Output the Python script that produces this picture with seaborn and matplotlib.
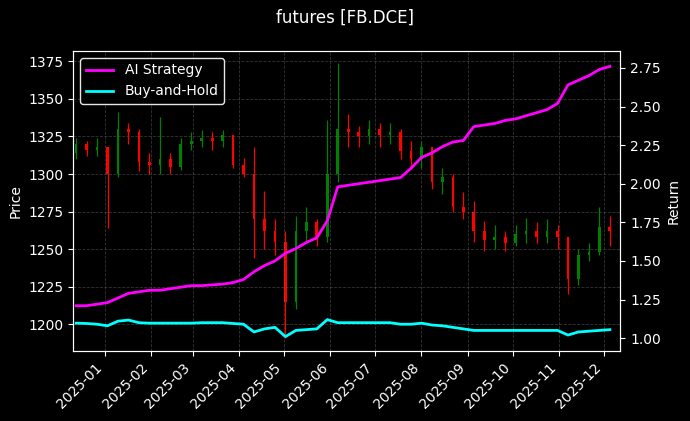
import numpy as np
import pandas as pd
import matplotlib
matplotlib.use("Agg")
import matplotlib.pyplot as plt
import matplotlib.dates as mdates
import seaborn as sns

# weekly candles (Friday dates)
dates = pd.date_range("2024-12-13", periods=52, freq="W-FRI")
close = [1320, 1316, 1318, 1300, 1330, 1328, 1308, 1306, 1310, 1305,
         1320, 1322, 1324, 1322, 1326, 1306, 1300, 1270, 1262, 1255,
         1215, 1262, 1268, 1258, 1300, 1330, 1328, 1325, 1330, 1326,
         1328, 1315, 1310, 1318, 1295, 1298, 1278, 1275, 1262, 1256,
         1258, 1254, 1260, 1262, 1258, 1262, 1258, 1230, 1246, 1248,
         1265, 1262]
open_ = [1314] + close[:-1]
high = [1324, 1322, 1324, 1318, 1341, 1334, 1330, 1314, 1338, 1314,
        1324, 1328, 1329, 1328, 1329, 1326, 1311, 1318, 1289, 1270,
        1262, 1272, 1278, 1270, 1336, 1374, 1340, 1332, 1336, 1334,
        1334, 1330, 1322, 1322, 1318, 1304, 1300, 1288, 1282, 1269,
        1266, 1262, 1266, 1271, 1268, 1270, 1266, 1258, 1250, 1254,
        1278, 1272]
low = [1310, 1312, 1312, 1264, 1298, 1320, 1302, 1300, 1300, 1300,
       1303, 1316, 1318, 1316, 1318, 1304, 1298, 1244, 1250, 1246,
       1191, 1210, 1255, 1252, 1255, 1295, 1318, 1318, 1320, 1318,
       1320, 1310, 1304, 1304, 1290, 1287, 1275, 1270, 1255, 1249,
       1250, 1249, 1252, 1254, 1254, 1254, 1250, 1220, 1226, 1242,
       1246, 1252]

strategy = [1.21, 1.21, 1.22, 1.23, 1.26, 1.29, 1.30, 1.31, 1.31, 1.32,
            1.33, 1.34, 1.34, 1.345, 1.35, 1.36, 1.38, 1.43, 1.47, 1.50,
            1.55, 1.58, 1.62, 1.65, 1.76, 1.98, 1.99, 2.00, 2.01, 2.02,
            2.03, 2.04, 2.10, 2.17, 2.20, 2.24, 2.27, 2.28, 2.37, 2.38,
            2.39, 2.41, 2.42, 2.44, 2.46, 2.48, 2.52, 2.64, 2.67, 2.70,
            2.74, 2.76]
buyhold = [1.097, 1.095, 1.09, 1.08, 1.11, 1.117, 1.10, 1.097, 1.097, 1.097,
           1.097, 1.097, 1.10, 1.10, 1.10, 1.095, 1.09, 1.04, 1.06, 1.07,
           1.01, 1.05, 1.055, 1.06, 1.12, 1.10, 1.10, 1.10, 1.10, 1.10,
           1.10, 1.09, 1.09, 1.097, 1.085, 1.08, 1.07, 1.06, 1.05, 1.05,
           1.05, 1.05, 1.05, 1.05, 1.05, 1.05, 1.05, 1.02, 1.04, 1.045,
           1.05, 1.055]

df = pd.DataFrame({"date": dates, "open": open_, "high": high, "low": low,
                   "close": close, "AI Strategy": strategy, "Buy-and-Hold": buyhold})

plt.style.use("dark_background")
fig, ax = plt.subplots(figsize=(6.9, 4.21), dpi=100)
fig.subplots_adjust(left=0.106, right=0.899, top=0.879, bottom=0.166)

colors = np.where(df["close"] >= df["open"], "green", "red")
ax.vlines(df["date"], df["low"], df["high"], colors=colors, linewidth=0.9)
ax.bar(df["date"], (df["close"] - df["open"]).abs().clip(lower=1.5),
       bottom=np.minimum(df["open"], df["close"]), width=1.8, color=colors)
ax.set_ylim(1182, 1382)
ax.set_xlim(pd.Timestamp("2024-12-11"), pd.Timestamp("2025-12-12"))
ax.set_ylabel("Price")
ax.grid(True, linestyle="--", color="grey", alpha=0.4, linewidth=0.6)
ax.xaxis.set_major_locator(mdates.MonthLocator())
ax.xaxis.set_major_formatter(mdates.DateFormatter("%Y-%m"))
for label in ax.get_xticklabels(which="major"):
    label.set(rotation=45, horizontalalignment="right")

ax2 = ax.twinx()
long = df.melt(id_vars="date", value_vars=["AI Strategy", "Buy-and-Hold"],
               var_name="series", value_name="ret")
sns.lineplot(data=long, x="date", y="ret", hue="series",
             palette={"AI Strategy": "magenta", "Buy-and-Hold": "cyan"},
             linewidth=2, ax=ax2)
ax2.set_ylim(0.916, 2.86)
ax2.set_ylabel("Return")
ax2.set_xlabel("")
ax.set_xlabel("")
leg = ax2.legend(loc="upper left", facecolor="black", edgecolor="white")
leg.get_frame().set_alpha(0.9)
ax2.set_xlim(pd.Timestamp("2024-12-11"), pd.Timestamp("2025-12-12"))

fig.suptitle("futures [FB.DCE]")
fig.savefig("out.png")
